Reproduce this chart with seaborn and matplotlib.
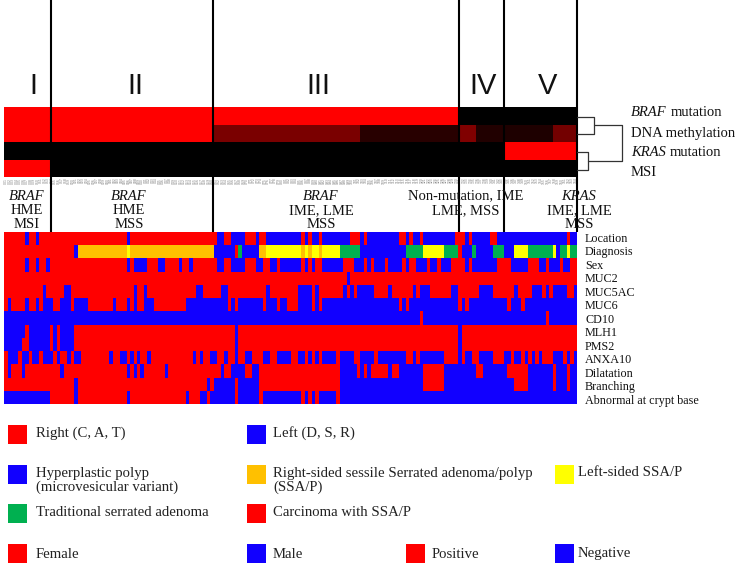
import numpy as np
import matplotlib
matplotlib.use('Agg')
import matplotlib.pyplot as plt
from matplotlib.colors import ListedColormap, LinearSegmentedColormap
from matplotlib.patches import Rectangle
import seaborn as sns

W, H = 738, 566
n_samples = 164

# genetic panel, (first sample, last sample + 1, value), black elsewhere
genetic_rows = ['BRAF mutation', 'DNA methylation', 'KRAS mutation', 'MSI']
braf_runs = [(0, 130, 1.0)]
methylation_runs = [(0, 60, 1.0), (60, 102, 0.48), (102, 130, 0.16), (130, 135, 0.5),
                    (135, 143, 0.13), (143, 157, 0.12), (157, 164, 0.45)]
kras_runs = [(143, 164, 1.0)]
msi_runs = [(0, 13, 1.0)]

# phenotype panel, runs of blue samples, red elsewhere
phenotype_rows = ['Location', 'Diagnosis', 'Sex', 'MUC2', 'MUC5AC', 'MUC6', 'CD10', 'MLH1', 'PMS2',
                  'ANXA10', 'Dilatation', 'Branching', 'Abnormal at crypt base']
location_blue = [(6, 7), (9, 10), (35, 36), (61, 63), (65, 69), (72, 73), (75, 85), (86, 87), (88, 90),
                 (91, 99), (102, 103), (104, 113), (115, 116), (117, 119), (120, 129), (132, 133),
                 (134, 139), (141, 161), (162, 164)]
sex_blue = [(6, 7), (9, 10), (12, 13), (35, 36), (37, 41), (44, 46), (50, 51), (53, 54), (61, 63), (65, 69),
            (72, 74), (76, 78), (79, 85), (86, 87), (88, 89), (91, 97), (100, 103), (104, 105), (106, 109),
            (110, 114), (115, 116), (118, 121), (122, 124), (125, 128), (132, 133), (134, 141), (145, 150),
            (153, 155), (156, 159), (160, 162)]
muc2_blue = [(98, 99)]
muc5ac_blue = [(11, 12), (17, 19), (37, 38), (40, 41), (55, 57), (62, 64), (75, 76), (84, 88), (89, 90),
               (97, 98), (99, 100), (101, 104), (104, 106), (110, 111), (117, 118), (119, 122), (128, 130),
               (136, 140), (146, 147), (151, 154), (155, 156), (157, 161), (163, 164)]
muc6_blue = [(1, 2), (6, 7), (9, 10), (11, 14), (16, 17), (17, 19), (20, 24), (31, 32), (35, 36), (37, 38),
             (40, 43), (52, 55), (55, 59), (59, 64), (65, 66), (67, 74), (75, 78), (79, 81), (84, 88), (89, 90),
             (91, 113), (114, 115), (116, 130), (131, 132), (133, 144), (145, 148), (149, 164)]
cd10_red = [(119, 120), (155, 156)]
mlh1_blue = [(0, 6), (7, 13), (14, 15), (16, 20), (66, 67), (130, 131)]
pms2_blue = [(0, 5), (7, 13), (14, 15), (16, 20), (66, 67), (130, 131)]
anxa10_blue = [(1, 4), (5, 7), (8, 10), (11, 14), (15, 16), (18, 19), (20, 22), (30, 31), (33, 35), (36, 37),
               (38, 39), (41, 42), (54, 55), (56, 57), (59, 61), (63, 64), (66, 67), (69, 71), (74, 76), (78, 82),
               (84, 86), (87, 88), (89, 90), (91, 95), (96, 100), (102, 106), (107, 115), (117, 118), (119, 126),
               (130, 131), (132, 134), (136, 140), (143, 145), (146, 148), (149, 150), (151, 152), (153, 154),
               (157, 160), (161, 162), (163, 164)]
dilatation_blue = [(1, 2), (5, 6), (16, 17), (35, 36), (37, 38), (39, 40), (46, 47), (62, 63), (65, 69), (71, 73),
                   (96, 101), (102, 103), (104, 105), (110, 111), (113, 120), (126, 135), (137, 144), (150, 157),
                   (158, 161), (162, 164)]
branching_blue = [(20, 21), (58, 59), (60, 66), (67, 73), (96, 120), (126, 146), (150, 157), (158, 161), (162, 164)]
abnormal_blue = [(0, 13), (20, 21), (35, 36), (52, 53), (56, 58), (59, 66), (67, 73), (74, 85), (86, 87),
                 (88, 89), (90, 95), (96, 164)]

# diagnosis codes: 0 hyperplastic, 1 carcinoma, 2 right SSA/P, 3 left SSA/P, 4 traditional
diagnosis_runs = [(0, 20, 1), (20, 21, 0), (21, 35, 2), (35, 36, 3), (36, 60, 2), (60, 66, 0), (66, 67, 1),
                  (67, 68, 4), (68, 73, 0), (73, 75, 2), (75, 85, 3), (85, 86, 2), (86, 87, 3), (87, 88, 2),
                  (88, 90, 3), (90, 91, 2), (91, 96, 3), (96, 102, 4), (102, 115, 0), (115, 120, 4), (120, 126, 3),
                  (126, 130, 4), (130, 131, 1), (131, 134, 0), (134, 135, 4), (135, 140, 0), (140, 143, 4),
                  (143, 146, 0), (146, 150, 3), (150, 157, 4), (157, 158, 3), (158, 159, 0), (159, 161, 4),
                  (161, 162, 3), (162, 164, 4)]

sample_ids = [f'{i + 1:03d}' for i in range(n_samples)]
group_edges = [51, 213, 459, 504, 577]
group_names = ['I', 'II', 'III', 'IV', 'V']
group_x = [33, 135, 318, 483, 548]


def fill(base, runs, value=None):
    row = np.full(n_samples, base, dtype=float)
    for run in runs:
        row[run[0]:run[1]] = value if value is not None else run[2]
    return row


def pixel_axes(x0, y0, x1, y1):
    return fig.add_axes([x0 / W, 1 - y1 / H, (x1 - x0) / W, (y1 - y0) / H])


sns.set_theme(style='white')
plt.rcParams['font.family'] = ['Liberation Serif', 'DejaVu Serif']

fig = plt.figure(figsize=(W / 100, H / 100), dpi=100, facecolor='white')

# genetic heatmap
genetic = np.vstack([fill(0, braf_runs), fill(0, methylation_runs), fill(0, kras_runs), fill(0, msi_runs)])
black_red = LinearSegmentedColormap.from_list('black_red', ['#000000', '#ff0000'])
ax_top = pixel_axes(4.3, 107, 577, 177)
sns.heatmap(genetic, ax=ax_top, cmap=black_red, vmin=0, vmax=1, cbar=False, xticklabels=sample_ids, yticklabels=False)
ax_top.tick_params(axis='x', length=0, pad=0.5, labelsize=2.2, labelcolor='#777777', labelrotation=90)
for lab in ax_top.get_xticklabels():
    lab.set_family('DejaVu Sans')

# phenotype heatmap, colour codes: 0 blue, 1 red, 2 orange, 3 yellow, 4 green
phenotype = np.vstack([
    fill(1, location_blue, 0), fill(0, diagnosis_runs), fill(1, sex_blue, 0), fill(1, muc2_blue, 0),
    fill(1, muc5ac_blue, 0), fill(1, muc6_blue, 0), fill(0, cd10_red, 1), fill(1, mlh1_blue, 0),
    fill(1, pms2_blue, 0), fill(1, anxa10_blue, 0), fill(1, dilatation_blue, 0),
    fill(1, branching_blue, 0), fill(1, abnormal_blue, 0)])
blue, red, orange, yellow, green = '#1100ff', '#ff0000', '#ffc000', '#ffff00', '#00b050'
ax_low = pixel_axes(4.3, 232, 577, 404)
sns.heatmap(phenotype, ax=ax_low, cmap=ListedColormap([blue, red, orange, yellow, green]), vmin=-0.5, vmax=4.5,
            cbar=False, xticklabels=False, yticklabels=False)

# overlay in pixel coordinates for everything around the heatmaps
ov = fig.add_axes([0, 0, 1, 1], zorder=5)
ov.set_xlim(0, W)
ov.set_ylim(H, 0)
ov.axis('off')
ov.patch.set_alpha(0)

for x, name in zip(group_x, group_names):
    ov.text(x, 86, name, fontsize=21, family='Liberation Sans', color='#111111', ha='center', va='center')

group_text = [(27, ['BRAF', 'HME', 'MSI']), (129, ['BRAF', 'HME', 'MSS']), (321, ['BRAF', 'IME, LME', 'MSS']),
              (466, ['Non-mutation, IME', 'LME, MSS', None]), (579, ['KRAS', 'IME, LME', 'MSS'])]
for x, lines in group_text:
    for i, line in enumerate(lines):
        if line:
            ov.text(x, 196 + 14.5 * i, line, fontsize=10.5, ha='center', va='center', color='#111111',
                    style='italic' if line in ('BRAF', 'KRAS') else 'normal')

for x in group_edges:
    ov.plot([x, x], [0, 232], color='black', lw=1.5, solid_capstyle='butt')

# dendrogram
dendro = [([577, 594, 594, 577], [116.5, 116.5, 134, 134]), ([577, 588, 588, 577], [152, 152, 169.5, 169.5]),
          ([594, 622, 622, 588], [125, 125, 160.5, 160.5])]
for xs, ys in dendro:
    ov.plot(xs, ys, color='#333333', lw=0.9)

# genetic row labels
ov.text(631, 113, 'BRAF', fontsize=10.5, style='italic', va='center', color='#111111')
ov.text(670.5, 113, 'mutation', fontsize=10.5, va='center', color='#111111')
ov.text(631, 133, genetic_rows[1], fontsize=10.5, va='center', color='#111111')
ov.text(631, 153, 'KRAS', fontsize=10.5, style='italic', va='center', color='#111111')
ov.text(670, 153, 'mutation', fontsize=10.5, va='center', color='#111111')
ov.text(631, 172, genetic_rows[3], fontsize=10.5, va='center', color='#111111')

for i, name in enumerate(phenotype_rows):
    ov.text(585, 239 + 13.47 * i, name, fontsize=8.7, va='center', color='#111111')

# legend
legend_boxes = [(7.5, 425, red), (247, 425, blue), (7.5, 465, blue), (247, 465, orange), (554.5, 465, yellow),
                (7.5, 504, green), (247, 504, red), (7.5, 544, red), (247, 544, blue), (405.5, 544, red),
                (554.5, 544, blue)]
for x, y, colour in legend_boxes:
    ov.add_patch(Rectangle((x, y), 19, 19, color=colour, lw=0))

legend_text = [(36, 433, 'Right (C, A, T)'), (273, 433, 'Left (D, S, R)'), (36, 473, 'Hyperplastic polyp'),
               (36, 487, '(microvesicular variant)'), (273, 473, 'Right-sided sessile Serrated adenoma/polyp'),
               (273, 487, '(SSA/P)'), (578, 473, 'Left-sided SSA/P'), (36, 513, 'Traditional serrated adenoma'),
               (273, 513, 'Carcinoma with SSA/P'), (36, 554, 'Female'), (273, 554, 'Male'),
               (432, 554, 'Positive'), (578, 554, 'Negative')]
for x, y, label in legend_text:
    ov.text(x, y, label, fontsize=10.6, va='center', color='#222222')

fig.savefig('out.png', dpi=100)
